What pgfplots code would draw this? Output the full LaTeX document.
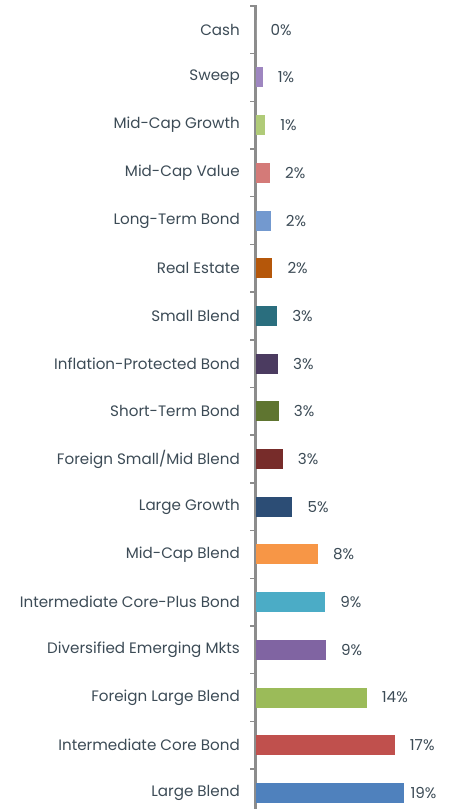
\documentclass[border=0pt]{standalone}
\usepackage{pgfplots}
\pgfplotsset{compat=1.18}
\usepackage{fontspec}
\setmainfont{Poppins}
\definecolor{txt}{HTML}{3C4B56}
\definecolor{axgray}{HTML}{8C8C8C}
\definecolor{cSweep}{HTML}{9E86C0}
\definecolor{cMCG}{HTML}{B0CB78}
\definecolor{cMCV}{HTML}{D47A78}
\definecolor{cLTB}{HTML}{7399CF}
\definecolor{cRE}{HTML}{B5570A}
\definecolor{cSB}{HTML}{2A6E7E}
\definecolor{cIPB}{HTML}{4B3B60}
\definecolor{cSTB}{HTML}{5F7530}
\definecolor{cFSM}{HTML}{772C2A}
\definecolor{cLG}{HTML}{2C4D75}
\definecolor{cMCB}{HTML}{F79646}
\definecolor{cICP}{HTML}{4BACC6}
\definecolor{cDEM}{HTML}{8064A2}
\definecolor{cFLB}{HTML}{9BBB59}
\definecolor{cICB}{HTML}{C0504D}
\definecolor{cLB}{HTML}{4F81BD}
\begin{document}
\begin{tikzpicture}
\path[use as bounding box] (0,0) rectangle (453bp,809bp);
\begin{axis}[
  at={(255.5bp,0)}, anchor=south west,
  scale only axis, width=197.5bp, height=804bp,
  xmin=0, xmax=24.6875, ymin=-0.3355, ymax=16.52,
  xbar, bar width=20bp, bar shift=0pt,
  hide x axis,
  axis y line*=left,
  y axis line style={draw=axgray, line width=2bp, -},
  ytick={0,...,16},
  yticklabels={Large Blend,Intermediate Core Bond,Foreign Large Blend,Diversified Emerging Mkts,Intermediate Core-Plus Bond,Mid-Cap Blend,Large Growth,Foreign Small/Mid Blend,Short-Term Bond,Inflation-Protected Bond,Small Blend,Real Estate,Long-Term Bond,Mid-Cap Value,Mid-Cap Growth,Sweep,Cash},
  minor ytick={0.5,1.5,...,16.5},
  major tick length=0pt, minor tick length=5bp,
  tick align=outside,
  minor tick style={draw=axgray, line width=1.5bp},
  yticklabel style={font=\fontsize{15.2}{17}\selectfont, text=txt, inner sep=0pt, xshift=-15.5bp},
  point meta=explicit symbolic,
  nodes near coords,
  every node near coord/.style={font=\fontsize{15.2}{17}\selectfont, text=txt, anchor=west, inner sep=0pt, xshift=15bp},
  clip=false,
]
\addplot[fill=cLB, draw=none, every node near coord/.append style={xshift=-9bp}] coordinates {(18.6,0) [19\%]};
\addplot[fill=cICB, draw=none] coordinates {(17.4,1) [17\%]};
\addplot[fill=cFLB, draw=none] coordinates {(13.9,2) [14\%]};
\addplot[fill=cDEM, draw=none] coordinates {(8.8,3) [9\%]};
\addplot[fill=cICP, draw=none] coordinates {(8.7,4) [9\%]};
\addplot[fill=cMCB, draw=none] coordinates {(7.8,5) [8\%]};
\addplot[fill=cLG, draw=none] coordinates {(4.6,6) [5\%]};
\addplot[fill=cFSM, draw=none] coordinates {(3.4,7) [3\%]};
\addplot[fill=cSTB, draw=none] coordinates {(2.9,8) [3\%]};
\addplot[fill=cIPB, draw=none] coordinates {(2.8,9) [3\%]};
\addplot[fill=cSB, draw=none] coordinates {(2.7,10) [3\%]};
\addplot[fill=cRE, draw=none] coordinates {(2.1,11) [2\%]};
\addplot[fill=cLTB, draw=none] coordinates {(1.9,12) [2\%]};
\addplot[fill=cMCV, draw=none] coordinates {(1.8,13) [2\%]};
\addplot[fill=cMCG, draw=none] coordinates {(1.2,14) [1\%]};
\addplot[fill=cSweep, draw=none] coordinates {(0.9,15) [1\%]};
\addplot[fill=white, draw=none] coordinates {(0,16) [0\%]};
\end{axis}
\end{tikzpicture}
\end{document}
